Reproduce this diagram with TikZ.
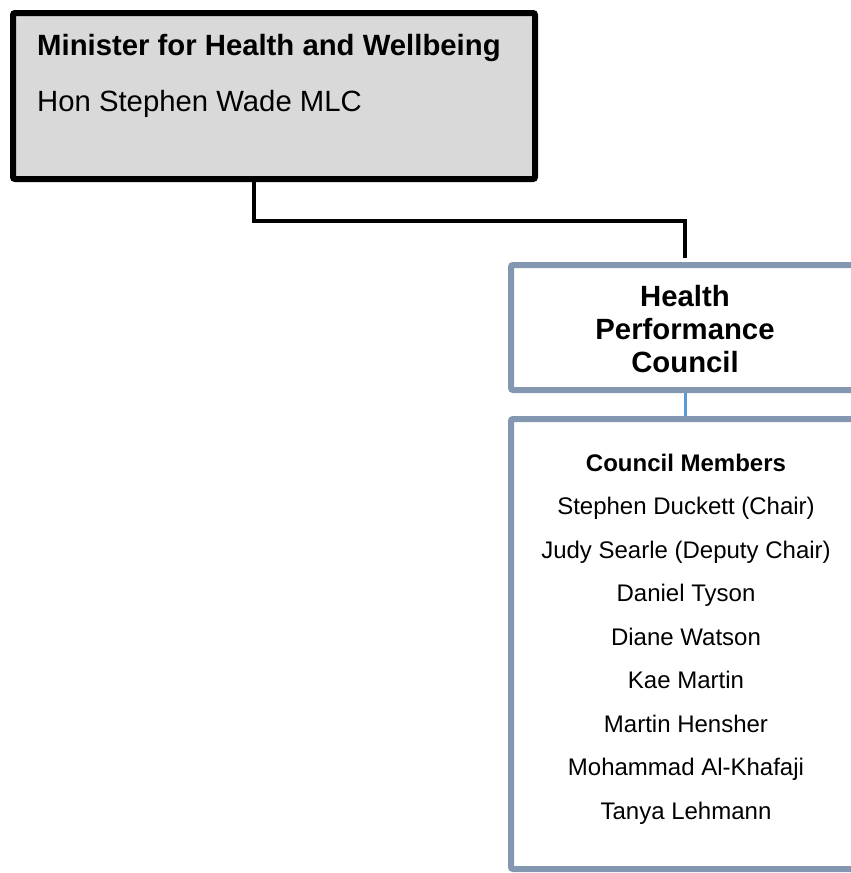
\documentclass[tikz,border=0pt]{standalone}
\usepackage{fontspec}
\setmainfont{Liberation Sans}
\usetikzlibrary{positioning,calc}

\definecolor{boxgrey}{HTML}{D9D9D9}
\definecolor{slate}{HTML}{8497B0}
\definecolor{linkblue}{HTML}{5B9BD5}

\begin{document}
\begin{tikzpicture}[x=1pt,y=-1pt]
  \tikzstyle{orgbox}=[rectangle,inner sep=0pt,outer sep=0pt,line width=6pt,rounded corners=2pt]
  \tikzstyle{bigbold}=[inner sep=0pt,font=\fontsize{29.3}{33}\selectfont\bfseries]
  \tikzstyle{bigtext}=[inner sep=0pt,font=\fontsize{29.3}{33}\selectfont]
  \tikzstyle{headtext}=[inner sep=0pt,font=\fontsize{24}{29}\selectfont\bfseries]
  \tikzstyle{membertext}=[inner sep=0pt,font=\fontsize{24}{29}\selectfont]
  \useasboundingbox (0,0) rectangle (851,873);
  \clip (0,0) rectangle (851,873);

  % minister
  \node[orgbox,draw=black,fill=boxgrey,minimum width=522pt,minimum height=166pt] (min) at (274,96) {};
  \node[bigbold,anchor=base west] (mt) at (37,55) {Minister for Health and Wellbeing};
  \node[bigtext,anchor=base west] (mn) at (37,111) {Hon Stephen Wade MLC};

  % council
  \node[orgbox,draw=slate,minimum width=359pt,minimum height=125pt] (hpc) at (690.5,327.5) {};
  \node[bigbold,align=center] (ht) at (685,329) {Health\\Performance\\Council};

  % members
  \node[orgbox,draw=slate,minimum width=359pt,minimum height=450pt] (mem) at (690.5,644) {};
  \node[headtext,anchor=base] (mh) at (686,471) {Council Members};
  \foreach \who [count=\i] in {Stephen Duckett (Chair),Judy Searle (Deputy Chair),
      Daniel Tyson,Diane Watson,Kae Martin,Martin Hensher,Mohammad Al-Khafaji,Tanya Lehmann}
    \node[membertext,anchor=base] (m\i) at (686,{471+43.5*\i}) {\who};

  \draw[line width=4.5pt] ([xshift=-20pt]min.south) -- ++(0,42) -| ([yshift=7pt]ht.north |- hpc.north);
  \draw[linkblue,line width=3pt,shorten <=3pt,shorten >=3pt] (ht.south |- hpc.south) -- (ht.south |- mem.north);
\end{tikzpicture}
\end{document}
